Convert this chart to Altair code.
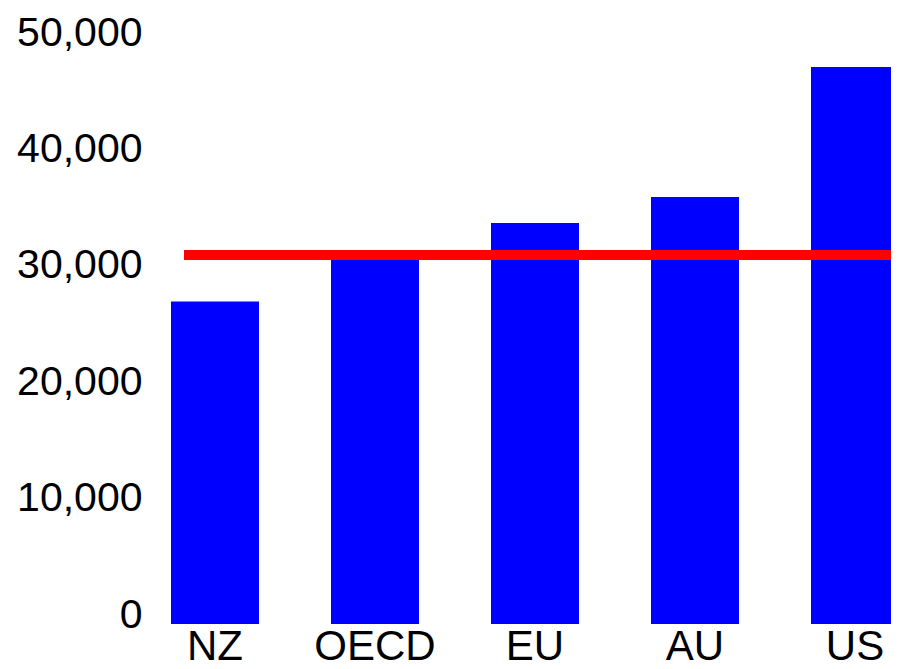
import altair as alt
import pandas as pd

regions = ["NZ", "OECD", "EU", "AU", "US"]
values = [27700, 31700, 34450, 36680, 47850]
oecd_line = [31700]
y_ticks = [0, 10000, 20000, 30000, 40000, 50000]

df = pd.DataFrame({"region": regions, "value": values})
line_df = pd.DataFrame({"value": oecd_line})

FONT = "Liberation Sans"

bars = alt.Chart(df).mark_bar(color="#0000ff").encode(
    x=alt.X("region:N", sort=regions, title=None,
            scale=alt.Scale(paddingInner=0.45, paddingOuter=0, range=[0, 728]),
            axis=alt.Axis(labelAngle=0, ticks=False, domain=False, labelPadding=2,
                          labelFontSize=42, labelFont=FONT, labelColor="black")),
    y=alt.Y("value:Q", title=None, scale=alt.Scale(domain=[0, 50000], nice=False),
            axis=alt.Axis(values=y_ticks, format=",d", grid=False, ticks=False, domain=False,
                          labelPadding=29, labelFontSize=41, labelFont=FONT, labelColor="black",
                          labelBaseline="middle", labelOffset=-9)),
)

rule = alt.Chart(line_df).mark_rule(color="#ff0000", strokeWidth=10).encode(
    y=alt.Y("value:Q"),
    x=alt.value(13),
    x2=alt.value(728),
)

chart = (
    alt.layer(bars, rule)
    .properties(width=720, height=582, background="white",
                autosize=alt.AutoSizeParams(type="none"),
                padding={"left": 163, "top": 34, "right": 0, "bottom": 60})
    .configure_view(strokeWidth=0, stroke="transparent")
)

chart.save("out.html", embed_options={"renderer": "svg", "actions": False})
